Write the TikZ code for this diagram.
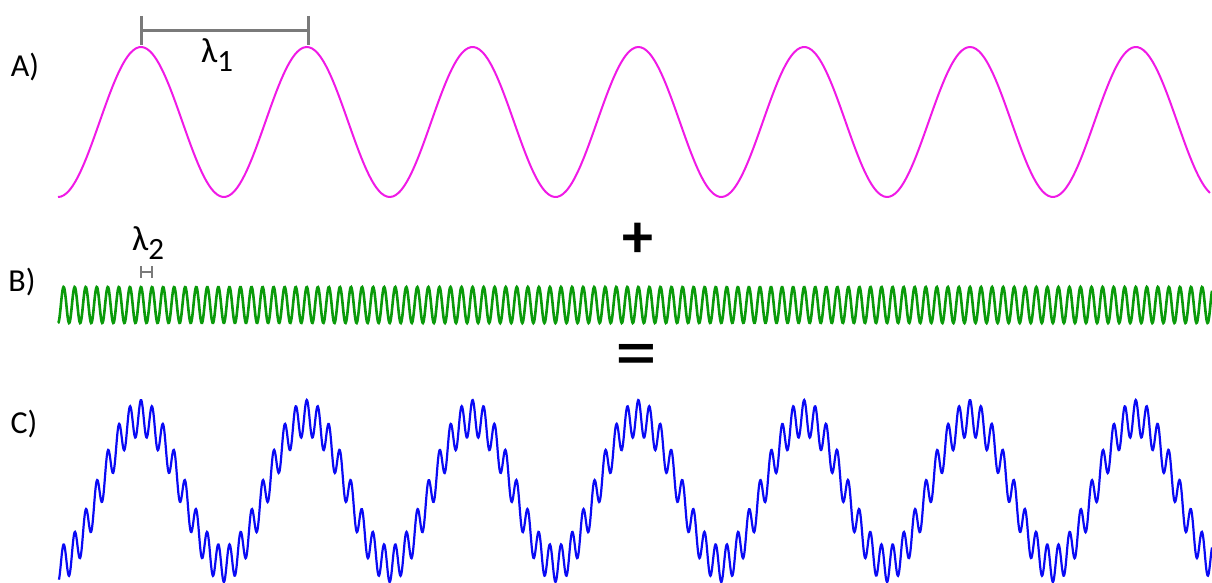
\documentclass[tikz,border=0pt]{standalone}
\usepackage{fontspec}
\setmainfont{Carlito}
\definecolor{wmag}{HTML}{F01AE6}
\definecolor{wgreen}{HTML}{0A9A0A}
\definecolor{wblue}{HTML}{0A0AF5}
\definecolor{bargray}{HTML}{7A7A7A}
\tikzset{
  lbl/.style={font=\fontsize{32}{32}\selectfont, inner sep=0pt},
  sym/.style={font=\fontsize{35}{35}\selectfont, inner sep=0pt},
  opplus/.style={font=\fontsize{62}{62}\selectfont\bfseries, inner sep=0pt},
  opeq/.style={font=\fontsize{84}{84}\selectfont, inner sep=0pt},
  bar/.style={draw=bargray, line width=3pt},
  tickbar/.style={draw=bargray, line width=2pt},
  wavea/.style={draw=wmag, line width=2pt},
  waveb/.style={draw=wgreen, line width=2.6pt},
  wavec/.style={draw=wblue, line width=2.2pt},
}
\newcommand{\subdig}[1]{\raisebox{-9pt}{\fontsize{31}{31}\selectfont #1}}
\begin{document}
\begin{tikzpicture}[x=1pt,y=-1pt]
\useasboundingbox (0,0) rectangle (1212,583);
\clip (0,0) rectangle (1212,583);
% labels
\node[lbl] (la) at (25,67) {A)};
\node[lbl] (lb) at (22,282) {B)};
\node[lbl] (lc) at (24,424) {C)};
% wave A
\draw[wavea] plot[domain=58:1210, samples=400, smooth] (\x,{122-75*cos(mod(\x-141,165.8)/165.8*360)});
% wave B
\draw[waveb] plot[domain=58:1212, samples=2300] (\x,{305-18*cos(mod(\x-141,11.053)/11.053*360)});
% wave C
\draw[wavec] plot[domain=59:1212, samples=2300] (\x,{491-73*cos(mod(\x-141,165.8)/165.8*360)-18*cos(mod(\x-141,11.053)/11.053*360)});
% lambda1 bar
\coordinate (a1) at (141,31);
\coordinate (a2) at (308,31);
\coordinate (a1t) at (141,16);
\coordinate (a1b) at (141,45);
\coordinate (a2t) at (308,16);
\coordinate (a2b) at (308,45);
\draw[bar] (a1) -- (a2);
\draw[bar] (a1t) -- (a1b);
\draw[bar] (a2t) -- (a2b);
\node[sym, anchor=base west] (l1) at (201,63) {λ\subdig{1}};
% lambda2 bar
\coordinate (b1) at (141,272);
\coordinate (b2) at (152,272);
\coordinate (b1t) at (141,266);
\coordinate (b1b) at (141,278);
\coordinate (b2t) at (152,266);
\coordinate (b2b) at (152,278);
\draw[tickbar] (b1) -- (b2);
\draw[tickbar] (b1t) -- (b1b);
\draw[tickbar] (b2t) -- (b2b);
\node[sym, anchor=base west] (l2) at (132,250) {λ\subdig{2}};
% operators
\node[opplus] (plus) at (637.5,240.5) {+};
\node[opeq] (eq) at (636,362) {=};
\end{tikzpicture}
\end{document}
